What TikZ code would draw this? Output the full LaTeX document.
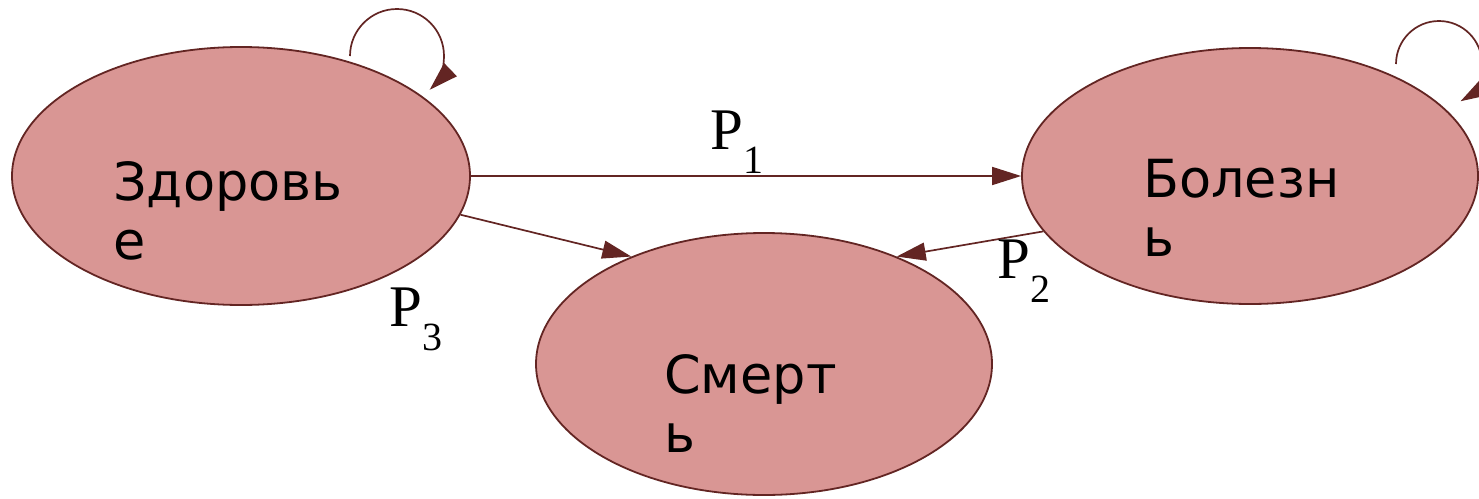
\documentclass[tikz,border=0pt]{standalone}
\usepackage{fontspec}
\usetikzlibrary{shapes.geometric,arrows.meta}
\newfontfamily\dvs{DejaVu Sans}
\newfontfamily\tms{Liberation Serif}
\definecolor{fillc}{RGB}{217,150,148}
\definecolor{edgec}{RGB}{99,37,35}
\tikzset{
  state/.style={ellipse, draw=edgec, fill=fillc, line width=1.8pt, inner sep=0pt},
  txt/.style={anchor=base west, inner sep=0pt, font=\dvs\fontsize{52.5}{59}\selectfont},
  lbl/.style={anchor=base west, inner sep=0pt, font=\tms\fontsize{59}{60}\selectfont},
  conn/.style={draw=edgec, line width=1.7pt, -{Triangle[length=29pt,width=18pt]}},
}
\newcommand{\subx}[1]{\raisebox{-24pt}{\fontsize{40}{40}\selectfont #1}}
\begin{document}
\begin{tikzpicture}[x=1pt,y=1pt]
\clip (0,0) rectangle (1479,-498);
\fill[white] (0,0) rectangle (1479,-498);
% states
\node[state, minimum width=458pt, minimum height=258pt] (zd) at (241,-176) {};
\node[state, minimum width=456pt, minimum height=256pt] (bo) at (1250,-176) {};
\node[state, minimum width=456pt, minimum height=262pt] (sm) at (764,-364) {};
% texts
\node[txt] (tzd) at (113,-200) {\begin{tabular}[t]{@{}l@{}}Здоровь\\е\end{tabular}};
\node[txt] (tbo) at (1143,-197) {\begin{tabular}[t]{@{}l@{}}Болезн\\ь\end{tabular}};
\node[txt] (tsm) at (664,-393) {\begin{tabular}[t]{@{}l@{}}Смерт\\ь\end{tabular}};
% connectors
\draw[conn] (zd.east) -- (bo.west);
\draw[conn] (zd.-10.7) -- (sm.141.3);
\draw[conn] (bo.195.1) -- (sm.39.4);
% self loops
\coordinate (l1) at (350,-56);
\coordinate (l2) at (1396,-64);
\draw[conn] (l1) arc[start angle=180, end angle=-46, radius=47];
\draw[conn] (l2) arc[start angle=180, end angle=-60, radius=43];
% labels
\node[lbl] (p1) at (710,-149) {P\subx{1}};
\node[lbl] (p2) at (997,-278) {P\subx{2}};
\node[lbl] (p3) at (389,-326) {P\subx{3}};
\end{tikzpicture}
\end{document}
